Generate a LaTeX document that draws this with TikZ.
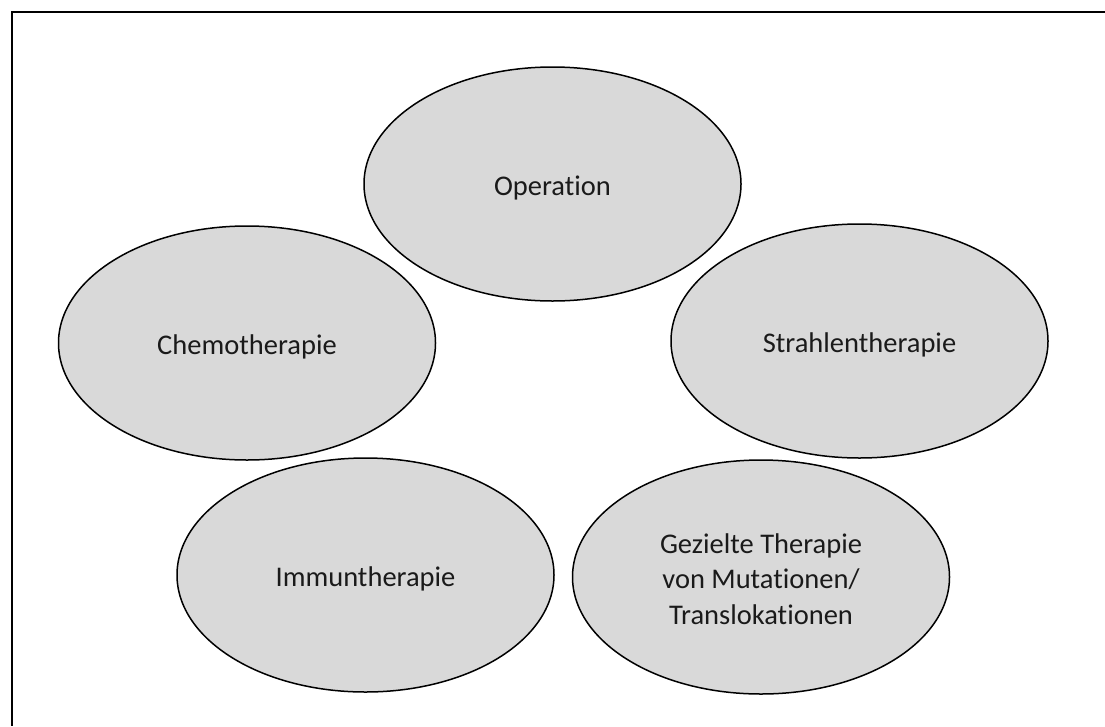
\documentclass[tikz,border=0pt]{standalone}
\usepackage{fontspec}
\setmainfont[Ligatures=NoCommon]{Carlito}
\usetikzlibrary{shapes.geometric}
\definecolor{bubblefill}{HTML}{D9D9D9}
\definecolor{textcol}{HTML}{1A1A1A}
\tikzset{
  bubble/.style={ellipse, draw=black, line width=1.5pt, fill=bubblefill,
    minimum width=377pt, minimum height=234pt, inner sep=0pt},
  bubbletext/.style={align=center, inner sep=0pt, text=textcol,
    font=\fontsize{28.5}{35.5}\selectfont},
  frameline/.style={draw=black, line width=2pt}
}
\begin{document}
\begin{tikzpicture}[x=1pt,y=-1pt]
\useasboundingbox (0,0) rectangle (1105,726);
\coordinate (tl) at (11.5,11.5);
\coordinate (tr) at (1105,11.5);
\coordinate (bl) at (11.5,726);
\draw[frameline] (tr) -- (tl) -- (bl);
\node[bubble] (op) at (552.5,184) {};
\node[bubble] (chemo) at (247,343) {};
\node[bubble] (strahl) at (859.5,341) {};
\node[bubble] (immun) at (365.5,575) {};
\node[bubble] (gez) at (761,577) {};
\node[bubbletext] (opt) at ([yshift=-4pt]op.center) {Operation};
\node[bubbletext] (chemot) at ([yshift=-4pt]chemo.center) {Chemotherapie};
\node[bubbletext] (strahlt) at ([yshift=-4pt]strahl.center) {Strahlentherapie};
\node[bubbletext] (immunt) at ([yshift=-4pt]immun.center) {Immuntherapie};
\node[bubbletext] (gezt) at ([yshift=-2pt]gez.center) {Gezielte Therapie\\von Mutationen/\\Translokationen};
\end{tikzpicture}
\end{document}
